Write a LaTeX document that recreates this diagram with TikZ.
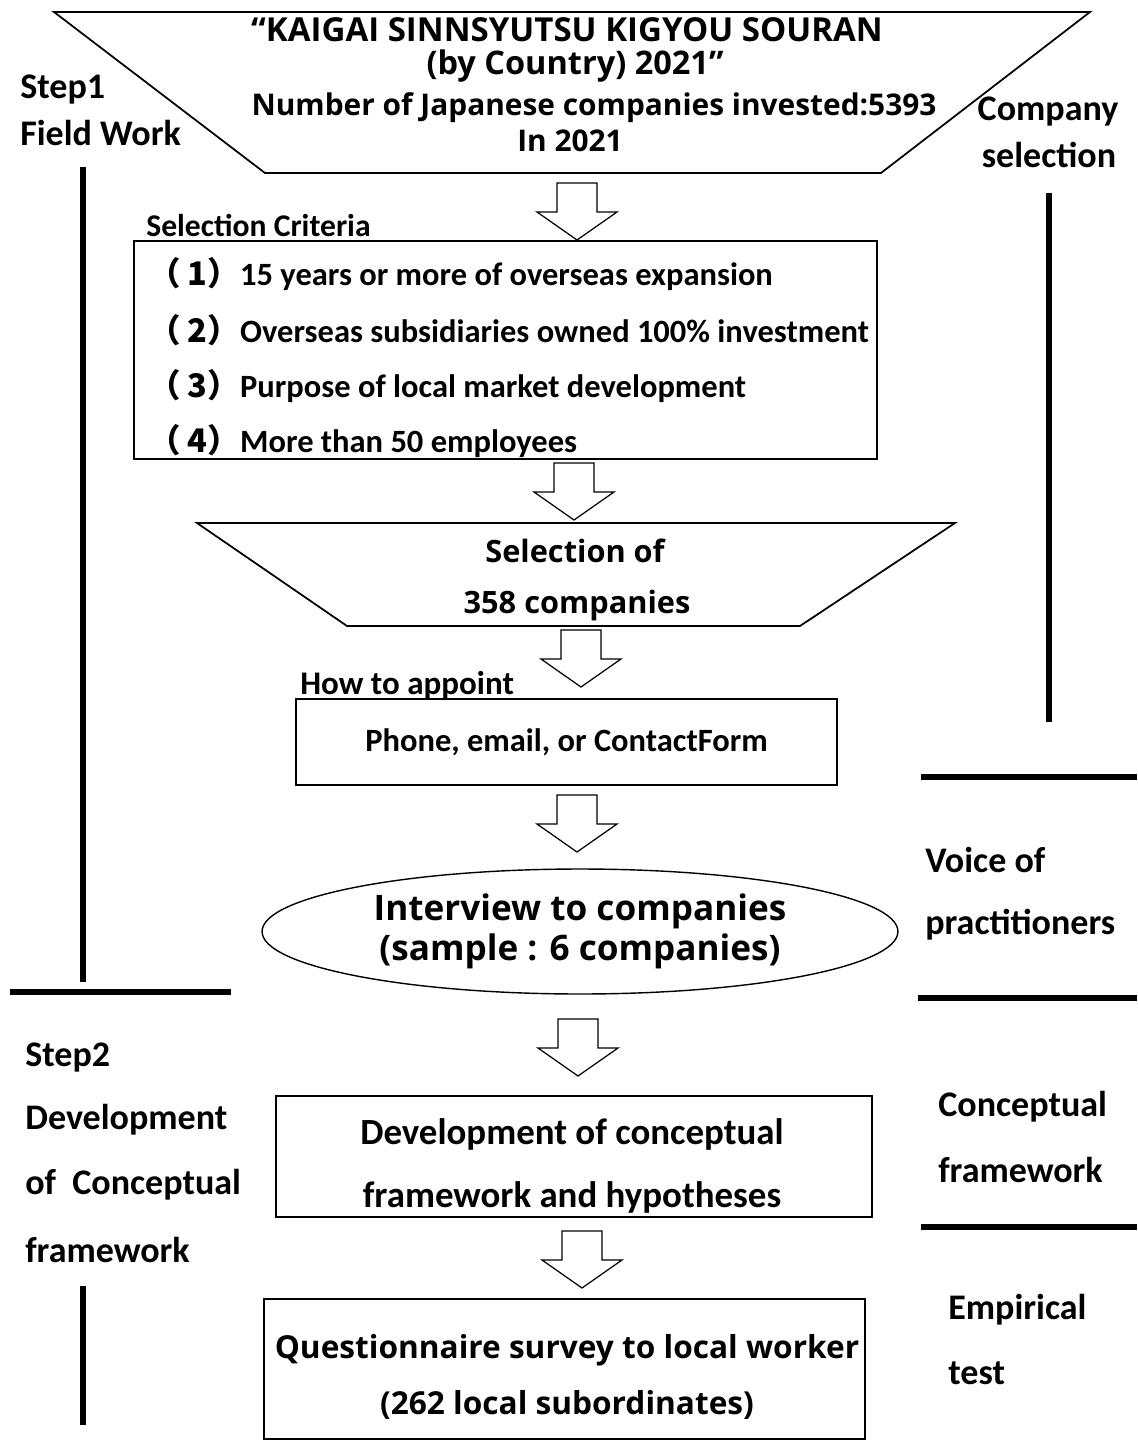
\documentclass[tikz,border=0pt]{standalone}
\usepackage{fontspec}
\setmainfont{Carlito}
\newfontfamily\meiryo{Open Sans}
\newfontfamily\jpfont{Noto Sans CJK JP}
\usetikzlibrary{shapes.geometric}

\tikzset{
  lbl/.style={font=\bfseries\fontsize{20.5}{24}\selectfont, anchor=west, inner sep=0pt},
  mei/.style={font=\meiryo\bfseries\fontsize{17}{20}\selectfont, inner sep=0pt},
  crit/.style={font=\bfseries\fontsize{18.5}{22}\selectfont, anchor=west, inner sep=0pt},
  box/.style={draw, line width=1pt, inner sep=0pt},
  bar/.style={line width=3pt},
  blk/.style={draw, line width=0.7pt, fill=white},
}
\newcommand{\blockdown}[1]{\draw[blk] (#1) ++(-20,0) -- ++(40,0) -- ++(0,29) -- ++(20,0) -- ++(-40,28) -- ++(-40,-28) -- ++(20,0) -- cycle;}
\newcommand{\itemno}[1]{{\jpfont （\hspace{4pt}#1）}}

\begin{document}
\begin{tikzpicture}[x=0.02cm, y=-0.02cm]
\useasboundingbox (0,0) rectangle (1137,1440);

% source trapezoid
\draw[line width=1pt] (54,12) -- (1090,12) -- (881,173) -- (265,173) -- cycle;
\node[mei, font=\meiryo\bfseries\fontsize{18.8}{20}\selectfont] (t1) at (567,30) {“KAIGAI SINNSYUTSU KIGYOU SOURAN};
\node[mei, font=\meiryo\bfseries\fontsize{18.5}{20}\selectfont] (t2) at (575,66) {(by Country) 2021”};
\node[mei] (t3) at (594,108) {Number of Japanese companies invested:5393};
\node[mei] (t4) at (570,141) {In 2021};

\node[lbl] (step1) at (20,90) {Step1};
\node[lbl] (field) at (20,133) {Field Work};
\node[lbl, anchor=center] (comp) at (1048,112) {Company};
\node[lbl, anchor=center] (sel) at (1049,155) {selection};

\coordinate (a1) at (577,183);
\blockdown{a1}

% criteria
\node[crit, font=\bfseries\fontsize{18}{22}\selectfont] (crithead) at (146,225) {Selection Criteria};
\node[box, minimum width=14.86cm, minimum height=4.36cm] (critbox) at (505.5,350) {};
\node[crit] (c1) at (148,274) {\itemno{1}15 years or more of overseas expansion};
\node[crit] (c2) at (148,330) {\itemno{2}Overseas subsidiaries owned 100\% investment};
\node[crit] (c3) at (148,386) {\itemno{3}Purpose of local market development};
\node[crit] (c4) at (148,441) {\itemno{4}More than 50 employees};

\coordinate (a2) at (574,463);
\blockdown{a2}

% selected companies
\draw[line width=1pt] (197,523) -- (955,523) -- (800,626) -- (347,626) -- cycle;
\node[mei, font=\meiryo\bfseries\fontsize{17.5}{21}\selectfont] (s1) at (575,551) {Selection of};
\node[mei, font=\meiryo\bfseries\fontsize{17.5}{21}\selectfont] (s2) at (577,606) {358 companies};

\coordinate (a3) at (581,630);
\blockdown{a3}

% appointment
\node[crit, font=\bfseries\fontsize{18.8}{22}\selectfont] (howto) at (300,685) {How to appoint};
\node[box, minimum width=10.82cm, minimum height=1.72cm, font=\bfseries\fontsize{18.5}{22}\selectfont] (appt) at (566.5,742) {Phone, email, or ContactForm};

\coordinate (a4) at (577,795);
\blockdown{a4}

% interviews
\node[ellipse, draw, line width=0.8pt, minimum width=12.72cm, minimum height=2.5cm, inner sep=0pt,
  align=center, font=\meiryo\bfseries\fontsize{20}{23}\selectfont] (interview) at (580,931.5)
  {Interview to companies\\(sample : 6 companies)};
\node[lbl] (voice) at (925,860) {Voice of};
\node[lbl] (pract) at (925,925) {practitioners};

\coordinate (a5) at (578,1019);
\blockdown{a5}

% step 2
\node[lbl] (step2) at (25,1058) {Step2};
\node[lbl] (dev) at (25,1120) {Development};
\node[lbl] (ofc) at (25,1185) {of\ \ Conceptual};
\node[lbl] (frame) at (25,1250) {framework};

\node[box, minimum width=11.92cm, minimum height=2.42cm] (concept) at (574,1156.5) {};
\node[align=center, inner sep=0pt, font=\bfseries\fontsize{21}{35.7}\selectfont] (concepttxt) at (572,1166)
  {Development of conceptual\\framework and hypotheses};
\node[lbl] (cf1) at (938,1107) {Conceptual};
\node[lbl] (cf2) at (938,1170) {framework};

\coordinate (a6) at (582,1231);
\blockdown{a6}

\node[box, minimum width=12.02cm, minimum height=2.8cm] (survey) at (564.5,1369) {};
\node[mei, align=center, font=\meiryo\bfseries\fontsize{18}{32}\selectfont] (surveytxt) at (567,1377)
  {Questionnaire survey to local worker\\(262 local subordinates)};
\node[lbl] (emp1) at (948,1310) {Empirical};
\node[lbl] (emp2) at (948,1373) {test};

% phase bars
\draw[bar] (83,167) -- (83,982);
\draw[bar] (10,992) -- (231,992);
\draw[bar] (83,1286) -- (83,1425);
\draw[bar] (1049,193) -- (1049,722);
\draw[bar] (921,777) -- (1137,777);
\draw[bar] (918,998) -- (1137,998);
\draw[bar] (921,1227) -- (1137,1227);
\end{tikzpicture}
\end{document}
